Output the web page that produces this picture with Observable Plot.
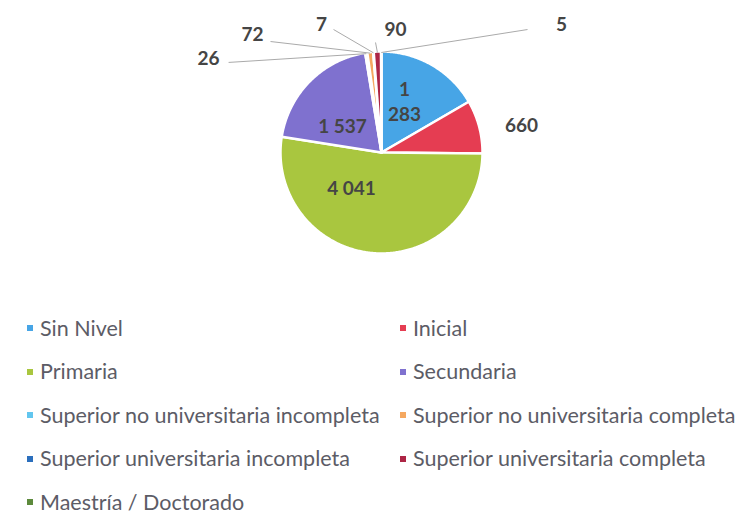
<!DOCTYPE html>
<html>
<head>
<meta charset="utf-8">
<script src="https://cdn.jsdelivr.net/npm/d3@7"></script>
<script src="https://cdn.jsdelivr.net/npm/@observablehq/plot@0.6"></script>
<style>
  html, body { margin: 0; padding: 0; background: #fff; }
  body { width: 752px; height: 521px; overflow: hidden; font-family: Lato, "Open Sans", sans-serif; }
  #chart svg { display: block; }
  #legend {
    display: grid;
    grid-template-columns: 373px 352px;
    grid-auto-rows: 43.5px;
    padding-top: 6.25px;
    padding-left: 27px;
    color: #5c5c66;
    font-size: 21.5px;
    line-height: 1.15;
  }
  #legend .item { display: flex; align-items: center; white-space: nowrap; }
  #legend .sw { width: 6px; height: 6px; margin-right: 7px; flex: none; }
</style>
</head>
<body>
<div id="chart"></div>
<div id="legend"></div>
<script>
// ---- data ----
const categories = [
  "Sin Nivel",
  "Inicial",
  "Primaria",
  "Secundaria",
  "Superior no universitaria incompleta",
  "Superior no universitaria completa",
  "Superior universitaria incompleta",
  "Superior universitaria completa",
  "Maestría / Doctorado"
];
const values = [1283, 660, 4041, 1537, 26, 72, 7, 90, 5];
const valueLabels = ["1\n283", "660", "4 041", "1 537", "26", "72", "7", "90", "5"];
const colors = ["#47a5e6", "#e53d52", "#a9c63f", "#7f71cf", "#62c6ef", "#f5a860", "#2b6fbd", "#ad2545", "#5d8a3c"];

// ---- layout (polar: angle in degrees clockwise from top, radius in pie radii) ----
const W = 752, H = 300, CX = 381, CY = 152, R = 101;
const labelPolar = [[23.9, 0.563], [78.7, 1.414], [220.6, 0.456], [304.7, 0.47],
                    [298.8, 1.954], [312.7, 1.738], [335.1, 1.409], [6.4, 1.236], [54.4, 2.193]];
const leaderPolar = [null, null, null, null,
                     [300.5, 1.757], [315, 1.554], [338.7, 1.307], [356.9, 1.091], [49.9, 1.89]];

const rad = d => d * Math.PI / 180;
const rows = categories.map((c, i) => ({category: c, value: values[i], label: valueLabels[i], i}));
const arcs = d3.pie().sort(null).value(d => d.value)(rows);

// slice outlines (arc sampled geometrically)
const slicePts = arcs.flatMap(a => {
  const pts = [{i: a.data.i, category: a.data.category, x: 0, y: 0}];
  const n = Math.max(2, Math.ceil((a.endAngle - a.startAngle) / 0.01));
  for (let k = 0; k <= n; k++) {
    const t = a.startAngle + (a.endAngle - a.startAngle) * k / n;
    pts.push({i: a.data.i, category: a.data.category, x: Math.sin(t), y: Math.cos(t)});
  }
  pts.push({i: a.data.i, category: a.data.category, x: 0, y: 0});
  return pts;
});

const labels = arcs.map(a => {
  const [ang, r] = labelPolar[a.data.i];
  return {label: a.data.label, x: r * Math.sin(rad(ang)), y: r * Math.cos(rad(ang))};
});

const leaders = arcs.filter(a => leaderPolar[a.data.i]).map(a => {
  const [ang, r] = leaderPolar[a.data.i];
  const mid = (a.startAngle + a.endAngle) / 2;
  return {
    x1: r * Math.sin(rad(ang)), y1: r * Math.cos(rad(ang)),
    x2: 0.99 * Math.sin(mid), y2: 0.99 * Math.cos(mid)
  };
});

const chart = Plot.plot({
  width: W,
  height: H,
  margin: 0,
  x: {domain: [-CX / R, (W - CX) / R], axis: null},
  y: {domain: [-(H - CY) / R, CY / R], axis: null},
  color: {domain: categories, range: colors},
  style: {background: "white"},
  marks: [
    Plot.line(slicePts, {x: "x", y: "y", z: "i", fill: "category", stroke: "white", strokeWidth: 2.5, strokeLinejoin: "round"}),
    Plot.link(leaders, {x1: "x1", y1: "y1", x2: "x2", y2: "y2", stroke: "#aaaaaa", strokeWidth: 1}),
    Plot.text(labels, {x: "x", y: "y", text: "label", fill: "#454545", fontSize: 19, fontWeight: "bold",
      fontFamily: "Lato, 'Open Sans', sans-serif", lineHeight: 1.3})
  ]
});
document.getElementById("chart").appendChild(chart);

// legend: 2 columns, row-major
const legend = document.getElementById("legend");
categories.forEach((c, i) => {
  const item = document.createElement("div");
  item.className = "item";
  const sw = document.createElement("span");
  sw.className = "sw";
  sw.style.background = colors[i];
  const tx = document.createElement("span");
  tx.textContent = c;
  item.appendChild(sw);
  item.appendChild(tx);
  legend.appendChild(item);
});
</script>
</body>
</html>
